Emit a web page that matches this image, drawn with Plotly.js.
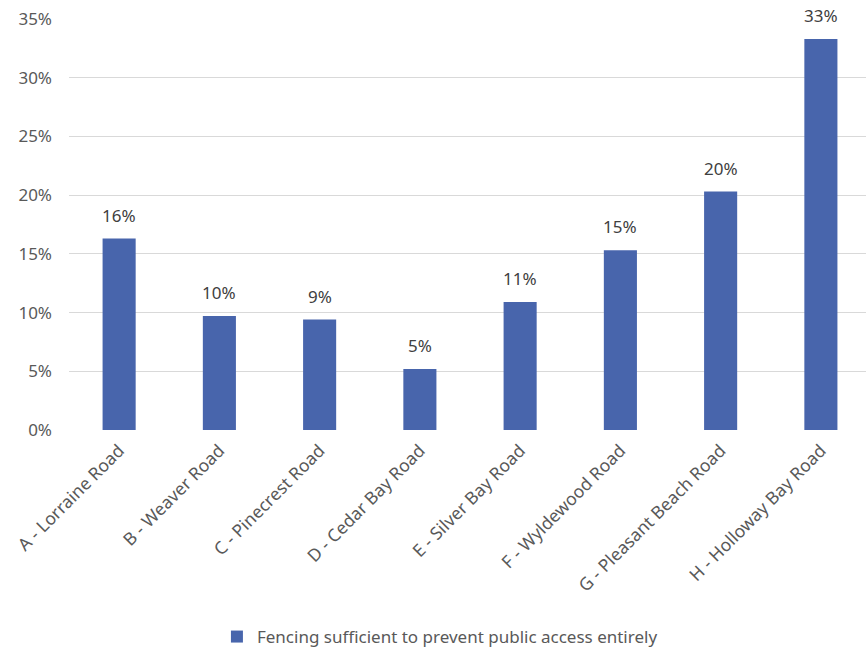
<!DOCTYPE html>
<html>
<head>
<meta charset="utf-8">
<script src="https://cdn.plot.ly/plotly-3.0.1.min.js"></script>
<style>html,body{margin:0;padding:0;background:#fff;}#chart{width:866px;height:652px;}</style>
</head>
<body>
<div id="chart"></div>
<script>
const categories = ["A - Lorraine Road","B - Weaver Road","C - Pinecrest Road","D - Cedar Bay Road","E - Silver Bay Road","F - Wyldewood Road","G - Pleasant Beach Road","H - Holloway Bay Road"];
const values = [0.163, 0.097, 0.094, 0.052, 0.109, 0.153, 0.203, 0.333];
const labels = ["16%","10%","9%","5%","11%","15%","20%","33%"];
const seriesName = "Fencing sufficient to prevent public access entirely";
const yTicks = [0,0.05,0.10,0.15,0.20,0.25,0.30,0.35];
const yTickText = ["0%","5%","10%","15%","20%","25%","30%","35%"];

const font = "Noto Sans, Open Sans, sans-serif";
const annotations = categories.map((c, i) => ({
  x: c, y: values[i], xref: "x", yref: "y", text: labels[i], showarrow: false,
  yanchor: "bottom", yshift: 10,
  font: {family: font, size: 17, color: "#404040"}
}));
Plotly.newPlot("chart", [{
  type: "bar",
  x: categories,
  y: values,
  name: seriesName,
  marker: {color: "#4865ac"},
  hoverinfo: "x+y"
}], {
  width: 866, height: 652,
  margin: {l: 69, r: 0, t: 19, b: 222},
  paper_bgcolor: "#fff", plot_bgcolor: "#fff",
  bargap: 0.67,
  showlegend: true,
  annotations: annotations,
  legend: {orientation: "h", x: 0.508, xanchor: "center", xref: "container",
           y: 0.023, yanchor: "middle", yref: "container",
           font: {family: font, size: 17, color: "#595959"}},
  xaxis: {range: [-0.5, 7.45], tickangle: -45, showgrid: false, zeroline: false, automargin: false,
          showline: false, ticks: "", ticklabelstandoff: 6,
          tickfont: {family: font, size: 17.5, color: "#595959"}},
  yaxis: {range: [0, 0.35], tickvals: yTicks, ticktext: yTickText, showgrid: true, automargin: false,
          gridcolor: "#d9d9d9", gridwidth: 1, zeroline: false, showline: false, ticks: "",
          ticklabelstandoff: 16,
          tickfont: {family: font, size: 17, color: "#595959"}}
}, {displayModeBar: false, staticPlot: true});
</script>
</body>
</html>
